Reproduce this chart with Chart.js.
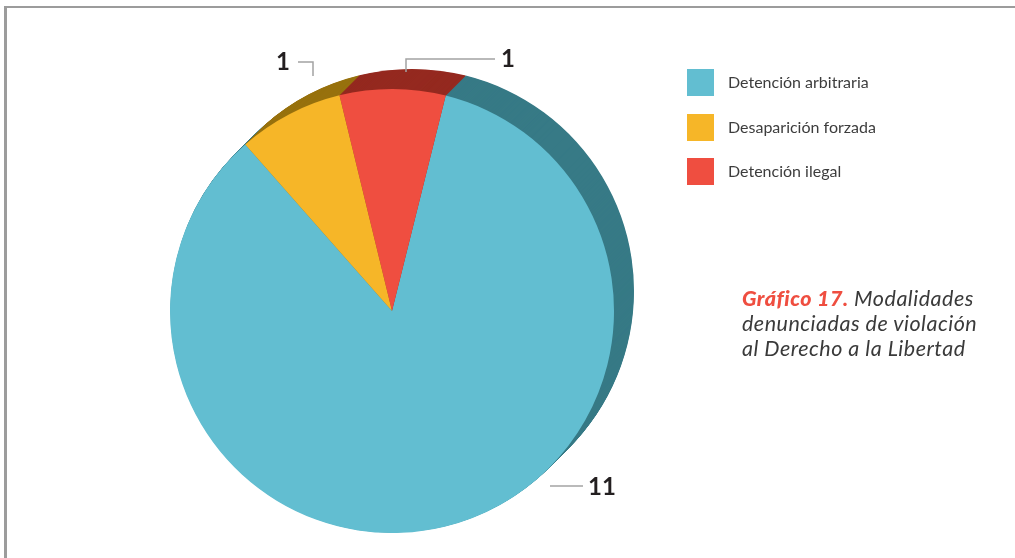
<!DOCTYPE html>
<html lang="es">
<head>
<meta charset="utf-8">
<title>Gráfico 17</title>
<script src="https://cdn.jsdelivr.net/npm/chart.js@4.4.1/dist/chart.umd.min.js"></script>
<style>
  html, body { margin: 0; padding: 0; background: #ffffff; }
  #wrap { position: relative; width: 1015px; height: 558px; overflow: hidden; font-family: Lato, "Open Sans", sans-serif; }
  #frame { position: absolute; left: 4px; top: 6px; right: 0; bottom: 0; border-left: 3px solid #9c9c9c; border-top: 2px solid #9c9c9c; pointer-events: none; }
  canvas { position: absolute; left: 0; top: 0; }
  #legend { position: absolute; left: 687px; top: 69px; }
  .item { position: relative; height: 44.5px; }
  .sw { position: absolute; left: 0; top: 0; width: 27px; height: 27px; }
  .lt { position: absolute; left: 41px; top: 3px; font-size: 16px; line-height: 20px; color: #3d3d3d; white-space: nowrap; }
  #title { position: absolute; left: 742px; top: 286px; font-size: 21.5px; line-height: 25px; letter-spacing: 0.5px; font-style: italic; color: #3a3a3a; white-space: nowrap; }
  #title b { color: #ef4e40; font-weight: 900; }
</style>
</head>
<body>
<div id="wrap">
  <canvas id="pie" width="1015" height="558"></canvas>
  <div id="legend"></div>
  <div id="title"><b>Gráfico 17.</b> Modalidades<br>denunciadas de violación<br>al Derecho a la Libertad</div>
  <div id="frame"></div>
</div>
<script>
// Denunciations by modality
const categories = ['Detención arbitraria', 'Desaparición forzada', 'Detención ilegal'];
const values = [11, 1, 1];
const faceColors = ['#62bed1', '#f6b628', '#ef4e40'];
const sideColors = ['#377a86', '#98720f', '#952a20'];

// Legend
const legend = document.getElementById('legend');
categories.forEach((name, i) => {
  const row = document.createElement('div');
  row.className = 'item';
  const sw = document.createElement('div');
  sw.className = 'sw';
  sw.style.background = faceColors[i];
  const lt = document.createElement('div');
  lt.className = 'lt';
  lt.textContent = name;
  row.appendChild(sw);
  row.appendChild(lt);
  legend.appendChild(row);
});

// Extruded side of the pie: the slices swept up-right, darker shade
const DEPTH = 20;
const extrude = {
  id: 'extrude',
  beforeDatasetsDraw(chart) {
    const ctx = chart.ctx;
    const arcs = chart.getDatasetMeta(0).data;
    for (let k = DEPTH; k >= 0.5; k -= 0.5) {
      ctx.save();
      ctx.translate(k, -k);
      arcs.forEach((arc, i) => {
        const p = arc.getProps(['x', 'y', 'startAngle', 'endAngle', 'outerRadius'], true);
        ctx.beginPath();
        ctx.moveTo(p.x, p.y);
        ctx.arc(p.x, p.y, p.outerRadius, p.startAngle, p.endAngle);
        ctx.closePath();
        ctx.fillStyle = sideColors[i];
        ctx.fill();
      });
      ctx.restore();
    }
  }
};

// Value callouts with leader lines (one per slice, in data order),
// placed relative to the pie centre
const callouts = [
  { path: [[158, 175], [191, 175]], text: [196, 175], align: 'left' },
  { path: [[-79, -235], [-79, -249], [-94, -249]], text: [-102, -250], align: 'right' },
  { path: [[14, -239], [14, -252], [103, -252]], text: [116, -253], align: 'center' }
];
const valueLabels = {
  id: 'valueLabels',
  afterDatasetsDraw(chart) {
    const ctx = chart.ctx;
    const arc = chart.getDatasetMeta(0).data[0];
    const cx = arc.x, cy = arc.y;
    ctx.save();
    ctx.strokeStyle = '#a3a3a3';
    ctx.lineWidth = 1.5;
    ctx.fillStyle = '#231f20';
    ctx.font = 'bold 24px Lato, "Open Sans", sans-serif';
    ctx.textBaseline = 'middle';
    callouts.forEach((c, i) => {
      ctx.beginPath();
      c.path.forEach(([dx, dy], j) => {
        if (j === 0) ctx.moveTo(cx + dx, cy + dy); else ctx.lineTo(cx + dx, cy + dy);
      });
      ctx.stroke();
      ctx.textAlign = c.align;
      ctx.fillText(String(values[i]), cx + c.text[0], cy + c.text[1] + 1);
    });
    ctx.restore();
  }
};

new Chart(document.getElementById('pie'), {
  type: 'pie',
  data: {
    labels: categories,
    datasets: [{
      data: values,
      backgroundColor: faceColors,
      borderWidth: 0
    }]
  },
  options: {
    responsive: false,
    animation: false,
    rotation: 14,
    layout: { padding: { left: 170, right: 401, top: 89, bottom: 25 } },
    plugins: {
      legend: { display: false },
      tooltip: { enabled: false }
    }
  },
  plugins: [extrude, valueLabels]
});
</script>
</body>
</html>
